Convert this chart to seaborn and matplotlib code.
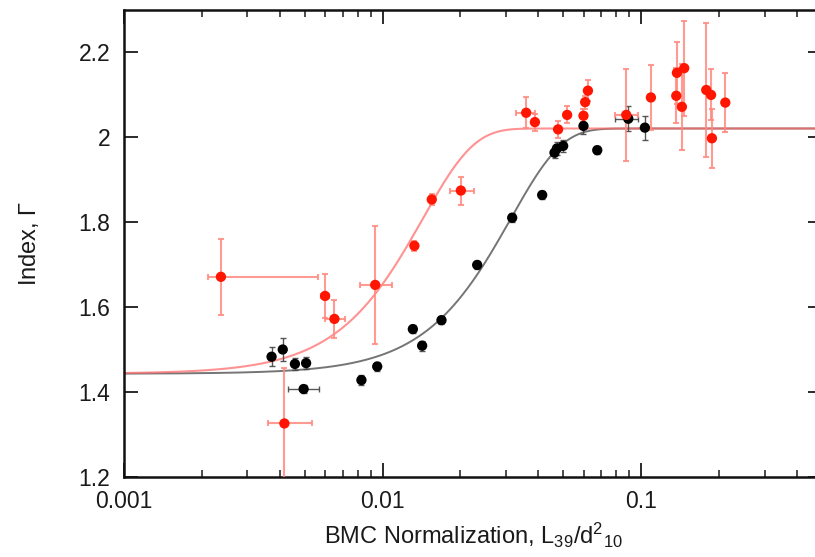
import numpy as np
import pandas as pd
import matplotlib
matplotlib.use("Agg")
import matplotlib.pyplot as plt
from matplotlib.ticker import FixedLocator, FuncFormatter, NullLocator, LogLocator
import seaborn as sns

# ---- soft-state sample (black) ----
blk_x = [0.00372, 0.00411, 0.00458, 0.00506, 0.00495, 0.00828, 0.00953,
         0.01309, 0.01422, 0.01689, 0.02321, 0.0317, 0.0414, 0.0462,
         0.0472, 0.0499, 0.0598, 0.0676, 0.0891, 0.1033]
blk_y = [1.483, 1.500, 1.466, 1.468, 1.407, 1.428, 1.460,
         1.548, 1.509, 1.569, 1.699, 1.810, 1.8635, 1.963,
         1.973, 1.979, 2.026, 1.969, 2.043, 2.022]
blk_xerr_lo = [0, 0, 0, 0, 0.00065, 0, 0, 0, 0, 0, 0, 0, 0, 0,
               0, 0, 0, 0, 0.0098, 0]
blk_xerr_hi = [0, 0, 0, 0, 0.00075, 0, 0, 0, 0, 0, 0, 0, 0, 0,
               0, 0, 0, 0, 0.0083, 0]
blk_yerr = [0.022, 0.026, 0.015, 0.015, 0.010, 0.012, 0.010,
            0.010, 0.012, 0.010, 0.010, 0.010, 0.010, 0.012,
            0.015, 0.015, 0.020, 0.010, 0.030, 0.028]

# ---- second sample (red) ----
red_x = [0.00237, 0.00599, 0.00651, 0.00417, 0.00936, 0.01327, 0.01549,
         0.02007, 0.0359, 0.0388, 0.0477, 0.0517, 0.0598, 0.0607, 0.0622,
         0.0875, 0.109, 0.1374, 0.1366, 0.1466, 0.1436, 0.1784, 0.1862,
         0.1876, 0.2114]
red_y = [1.671, 1.626, 1.572, 1.326, 1.652, 1.744, 1.853,
         1.874, 2.057, 2.035, 2.018, 2.052, 2.050, 2.082, 2.109,
         2.052, 2.093, 2.151, 2.097, 2.162, 2.071, 2.1106, 2.099,
         1.997, 2.081]
red_xerr_lo = [0.00026, 0.0002, 0.0005, 0.00056, 0.00118, 0, 0,
               0.00183, 0.003, 0, 0, 0, 0, 0, 0,
               0.0082, 0, 0, 0, 0, 0, 0, 0, 0, 0]
red_xerr_hi = [0.00326, 0.0002, 0.00066, 0.00115, 0.00149, 0, 0,
               0.00252, 0.003, 0, 0, 0, 0, 0, 0,
               0.0099, 0, 0, 0, 0, 0, 0, 0, 0, 0]
red_yerr = [0.09, 0.052, 0.045, 0.13, 0.139, 0.012, 0.012,
            0.033, 0.037, 0.02, 0.02, 0.02, 0.015, 0.015, 0.025,
            0.108, 0.076, 0.073, 0.065, 0.112, 0.101, 0.157, 0.06,
            0.069, 0.07]

# ---- saturation model curves ----
gamma_lo = 1.443
gamma_hi = 2.02
beta = 2.2
red_x0 = 0.0143
blk_x0 = 0.0313

xlim = (0.001, 0.5)
ylim = (1.2, 2.3)
xticks = [0.001, 0.01, 0.1]
yticks = [1.2, 1.4, 1.6, 1.8, 2.0, 2.2]

sns.set_theme(style="ticks")
plt.rcParams["font.family"] = ["Liberation Sans", "DejaVu Sans"]
plt.rcParams["mathtext.fontset"] = "custom"
plt.rcParams["mathtext.rm"] = "Liberation Sans"
plt.rcParams["mathtext.it"] = "Liberation Sans"

RED = "#ff1500"
RED_BAR = "#ff8a80"
RED_LINE = "#ff6e6e"
BLK = "#000000"
BLK_BAR = "#444444"
BLK_LINE = "#666666"


def model(x, x0):
    x = np.asarray(x)
    return gamma_lo + (gamma_hi - gamma_lo) * (1.0 - np.exp(-(x / x0) ** beta))


fig = plt.figure(figsize=(8.15, 5.57), dpi=100)
ax = fig.add_axes([124 / 815, 80 / 557, 698 / 815, 467.5 / 557])
ax.set_xscale("log")

xs = np.logspace(np.log10(xlim[0]), np.log10(xlim[1]), 500)
curves = pd.DataFrame({
    "x": np.concatenate([xs, xs]),
    "y": np.concatenate([model(xs, red_x0), model(xs, blk_x0)]),
    "set": ["red"] * len(xs) + ["black"] * len(xs),
})
sns.lineplot(data=curves[curves["set"] == "black"], x="x", y="y", ax=ax,
             color=BLK_LINE, lw=1.4, alpha=0.9, legend=False)
sns.lineplot(data=curves[curves["set"] == "red"], x="x", y="y", ax=ax,
             color=RED_LINE, lw=1.5, alpha=0.75, legend=False)

# error bars
ax.errorbar(blk_x, blk_y, xerr=[blk_xerr_lo, blk_xerr_hi], yerr=blk_yerr,
            fmt="none", ecolor=BLK_BAR, elinewidth=1.0, capsize=2,
            capthick=1.0, alpha=0.9, zorder=3)
ax.errorbar(red_x, red_y, xerr=[red_xerr_lo, red_xerr_hi], yerr=red_yerr,
            fmt="none", ecolor=RED_BAR, elinewidth=1.5, capsize=2.5,
            capthick=1.5, alpha=0.85, zorder=3)

pts = pd.DataFrame({
    "x": blk_x + red_x,
    "y": blk_y + red_y,
    "set": ["black"] * len(blk_x) + ["red"] * len(red_x),
})
sns.scatterplot(data=pts, x="x", y="y", hue="set",
                palette={"black": BLK, "red": RED}, s=55,
                edgecolor="none", legend=False, ax=ax, zorder=4)

ax.set_xlim(*xlim)
ax.set_ylim(*ylim)
ax.xaxis.set_major_locator(FixedLocator(xticks))
ax.xaxis.set_minor_locator(LogLocator(base=10, subs=np.arange(2, 10)))
ax.yaxis.set_major_locator(FixedLocator(yticks))
ax.yaxis.set_minor_locator(NullLocator())
ax.xaxis.set_major_formatter(FuncFormatter(lambda v, _: f"{v:g}"))
ax.yaxis.set_major_formatter(FuncFormatter(lambda v, _: f"{v:g}"))

ax.tick_params(which="both", direction="in", top=True, right=True,
               colors="#1a1a1a", labelsize=16.5)
ax.tick_params(which="major", length=10, width=1.3)
ax.tick_params(which="minor", length=5, width=1.1)
ax.tick_params(axis="x", pad=9)
ax.tick_params(axis="y", pad=10)
for sp in ax.spines.values():
    sp.set_linewidth(1.8)
    sp.set_color("#111111")

ax.set_xlabel(r"BMC Normalization, L$_{39}$/d$^{2}$$_{10}$", fontsize=17,
              color="#1a1a1a", labelpad=6)
ax.set_ylabel(r"Index, $\Gamma$", fontsize=17, color="#1a1a1a", labelpad=27)

fig.savefig("out.png", dpi=100)
